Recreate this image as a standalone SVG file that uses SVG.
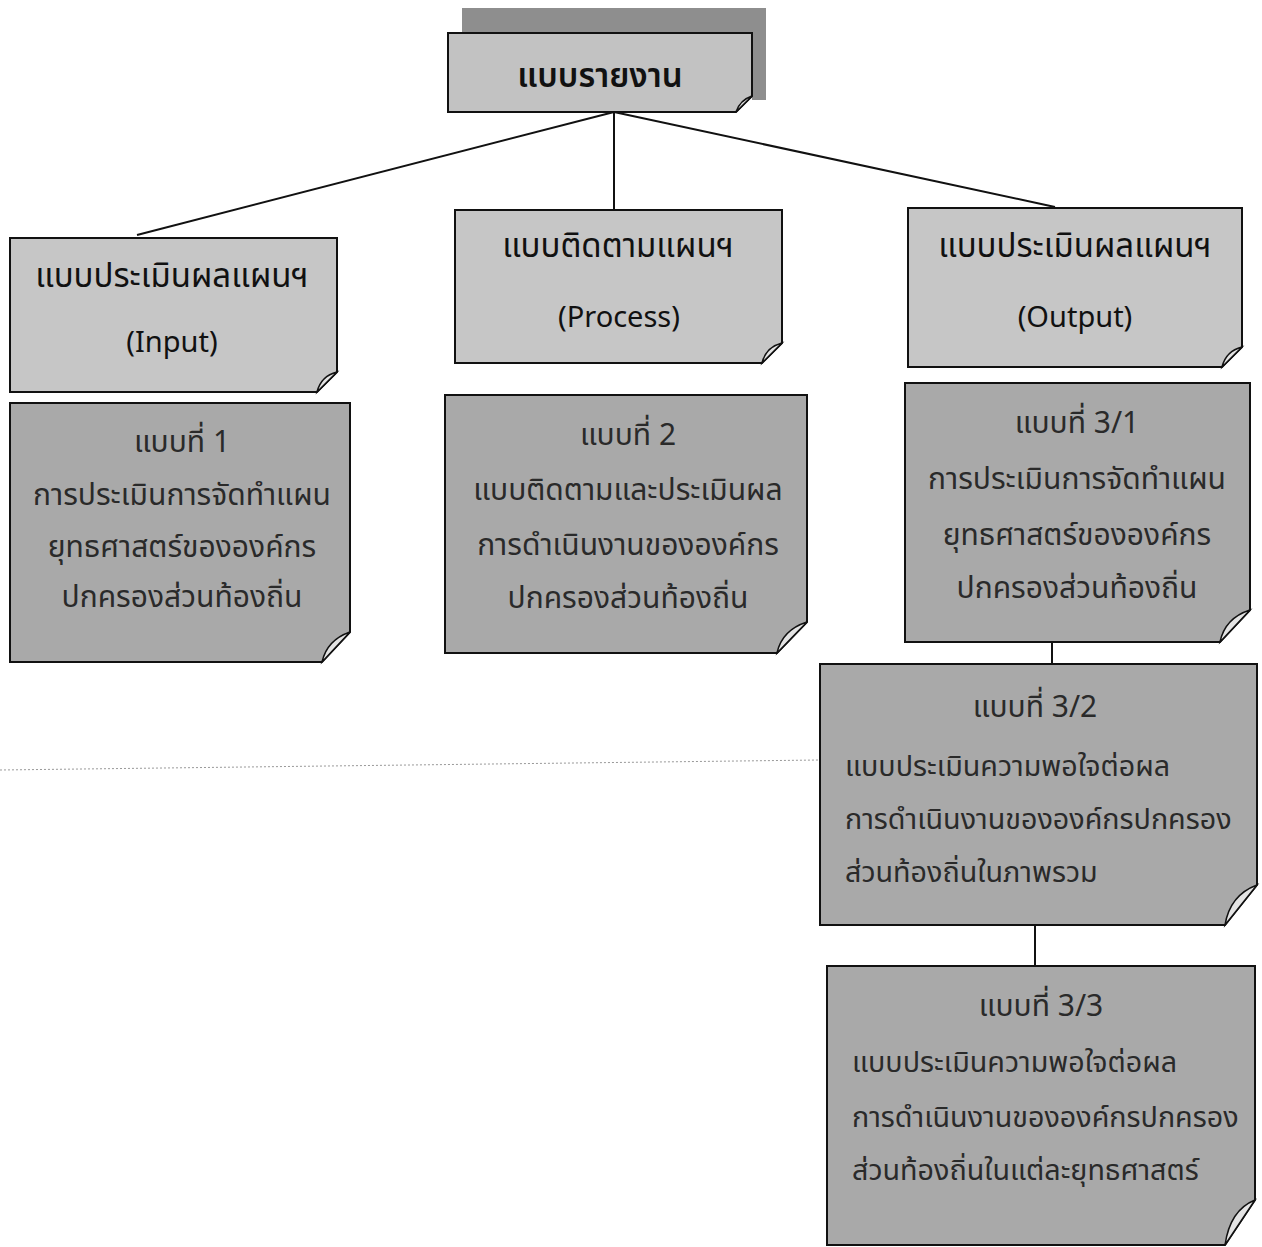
<svg xmlns="http://www.w3.org/2000/svg" width="1262" height="1247" viewBox="0 0 1262 1247">
<defs>
<style>
.box{stroke:#111;stroke-width:2;}
.light{fill:#c6c6c6;}
.dark{fill:#a9a9a9;}
.top{fill:#c2c2c2;}
.fold{fill:#e4e4e4;stroke:#111;stroke-width:1.5;}
.t{font-family:"Noto Sans Thai","Noto Sans","DejaVu Sans",sans-serif;fill:#111;font-size:33px;}
.lat{font-size:29px;}
.tl{font-family:"Noto Sans Thai","Noto Sans","DejaVu Sans",sans-serif;fill:#2a2a2a;font-size:30px;}
.sm{font-size:28.7px;}
.c{text-anchor:middle;}
.conn{stroke:#111;stroke-width:2;fill:none;}
</style>
</defs>
<rect width="1262" height="1247" fill="#fff"/>
<line x1="0" y1="770" x2="820" y2="760" stroke="#999" stroke-width="1" stroke-dasharray="2 2"/>

<g id="connectors">
<line class="conn" x1="614" y1="112" x2="137" y2="235"/>
<line class="conn" x1="614" y1="112" x2="614" y2="209"/>
<line class="conn" x1="614" y1="112" x2="1055" y2="207"/>
<line class="conn" x1="1052" y1="643" x2="1052" y2="664"/>
<line class="conn" x1="1035" y1="925" x2="1035" y2="966"/>
</g>

<g id="node-report">
<path d="M462,8 H766 V100 H752 V33 H462 Z" fill="#8e8e8e"/>
<path class="box top" d="M448,33 H752 V96 L736,112 H448 Z"/>
<path class="fold" d="M752,96 L736,112 Q740,100 752,96 Z"/>
<text class="t c" x="600" y="87" font-size="39" font-weight="600">แบบรายงาน</text>
</g>

<g id="node-input">
<path class="box light" d="M10,238 H337 V372 L317,392 H10 Z"/>
<path class="fold" d="M337,372 L317,392 Q321,376 337,372 Z"/>
<text class="t c" x="172" y="287">แบบประเมินผลแผนฯ</text>
<text class="t c lat" x="172" y="352">(Input)</text>
</g>

<g id="node-process">
<path class="box light" d="M455,210 H782 V343 L762,363 H455 Z"/>
<path class="fold" d="M782,343 L762,363 Q766,347 782,343 Z"/>
<text class="t c" x="618" y="257">แบบติดตามแผนฯ</text>
<text class="t c lat" x="619" y="327">(Process)</text>
</g>

<g id="node-output">
<path class="box light" d="M908,208 H1242 V347 L1222,367 H908 Z"/>
<path class="fold" d="M1242,347 L1222,367 Q1226,351 1242,347 Z"/>
<text class="t c" x="1075" y="257">แบบประเมินผลแผนฯ</text>
<text class="t c lat" x="1075" y="327">(Output)</text>
</g>

<g id="node-form1">
<path class="box dark" d="M10,403 H350 V632 L322,662 H10 Z"/>
<path class="fold" d="M350,632 L322,662 Q327,640 350,632 Z"/>
<text class="tl c" x="182" y="452">แบบที่ 1</text>
<text class="tl c" x="182" y="505">การประเมินการจัดทำแผน</text>
<text class="tl c" x="182" y="557">ยุทธศาสตร์ขององค์กร</text>
<text class="tl c" x="182" y="607">ปกครองส่วนท้องถิ่น</text>
</g>

<g id="node-form2">
<path class="box dark" d="M445,395 H807 V622 L777,653 H445 Z"/>
<path class="fold" d="M807,622 L777,653 Q782,630 807,622 Z"/>
<text class="tl c" x="628" y="445">แบบที่ 2</text>
<text class="tl c" x="628" y="500">แบบติดตามและประเมินผล</text>
<text class="tl c" x="628" y="555">การดำเนินงานขององค์กร</text>
<text class="tl c" x="628" y="608">ปกครองส่วนท้องถิ่น</text>
</g>

<g id="node-form31">
<path class="box dark" d="M905,383 H1250 V610 L1220,642 H905 Z"/>
<path class="fold" d="M1250,610 L1220,642 Q1225,618 1250,610 Z"/>
<text class="tl c" x="1077" y="433">แบบที่ 3/1</text>
<text class="tl c" x="1077" y="489">การประเมินการจัดทำแผน</text>
<text class="tl c" x="1077" y="545">ยุทธศาสตร์ขององค์กร</text>
<text class="tl c" x="1077" y="598">ปกครองส่วนท้องถิ่น</text>
</g>

<g id="node-form32">
<path class="box dark" d="M820,664 H1257 V885 L1225,925 H820 Z"/>
<path class="fold" d="M1257,885 L1225,925 Q1230,895 1257,885 Z"/>
<text class="tl c" x="1035" y="717">แบบที่ 3/2</text>
<text class="tl sm" x="845" y="776">แบบประเมินความพอใจต่อผล</text>
<text class="tl sm" x="845" y="829">การดำเนินงานขององค์กรปกครอง</text>
<text class="tl sm" x="845" y="882">ส่วนท้องถิ่นในภาพรวม</text>
</g>

<g id="node-form33">
<path class="box dark" d="M827,966 H1255 V1200 L1225,1245 H827 Z"/>
<path class="fold" d="M1255,1200 L1225,1245 Q1230,1210 1255,1200 Z"/>
<text class="tl c" x="1041" y="1016">แบบที่ 3/3</text>
<text class="tl sm" x="852" y="1072">แบบประเมินความพอใจต่อผล</text>
<text class="tl sm" x="852" y="1127">การดำเนินงานขององค์กรปกครอง</text>
<text class="tl sm" x="852" y="1180">ส่วนท้องถิ่นในแต่ละยุทธศาสตร์</text>
</g>
</svg>
